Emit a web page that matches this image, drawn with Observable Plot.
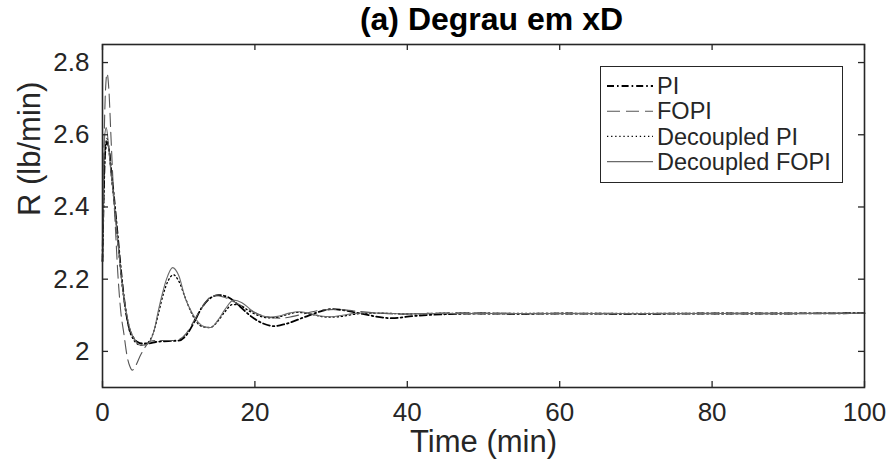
<!DOCTYPE html>
<html><head><meta charset="utf-8">
<script src="https://cdn.jsdelivr.net/npm/d3@7"></script>
<script src="https://cdn.jsdelivr.net/npm/@observablehq/plot@0.6"></script>
<style>
body{margin:0;background:#fff;}
#wrap{position:relative;width:888px;height:469px;font-family:"Liberation Sans",Arial,Helvetica,sans-serif;}
#legend{position:absolute;left:600px;top:66px;}
</style></head><body><div id="wrap"></div>
<script>
// ---- data ----
const title = "(a) Degrau em xD";
const xLabel = "Time (min)";
const yLabel = "R (lb/min)";
const xTicks = [0, 20, 40, 60, 80, 100];
const yTicks = [2, 2.2, 2.4, 2.6, 2.8];
const yTickLabels = ["2", "2.2", "2.4", "2.6", "2.8"];
const seriesNames = ["PI", "FOPI", "Decoupled PI", "Decoupled FOPI"];

const tPI = [0,0.15,0.35,0.6,0.85,1.2,1.5,2.0,2.5,3.0,3.5,4.0,4.6,5.2,6,7,8,9,10,11,12,13,14,15.2,16.5,18,19.5,21,22.5,24,26.4,28.5,30,33.4,35,38,40.8,45,50,55,60,70,80,90,100];
const rPI = [2.25,2.42,2.55,2.58,2.56,2.49,2.43,2.32,2.21,2.12,2.065,2.04,2.026,2.022,2.022,2.026,2.028,2.029,2.03,2.045,2.08,2.12,2.145,2.156,2.15,2.125,2.097,2.078,2.07,2.076,2.094,2.11,2.117,2.107,2.1,2.092,2.098,2.103,2.105,2.104,2.105,2.104,2.105,2.105,2.106];

const tFOPI = [0,0.15,0.35,0.6,0.85,1.1,1.4,1.7,2.0,2.4,2.8,3.2,3.6,3.9,4.4,5.0,5.6,6.2,7,8,9,10,11,12,13,14,14.8,16,17.5,19,20.5,22,23.5,25,27,29,31,33,35,37,39,41,44,47,50,55,60,70,80,90,100];
const rFOPI = [2.25,2.5,2.7,2.77,2.72,2.6,2.46,2.34,2.22,2.11,2.05,1.99,1.958,1.948,1.962,1.99,2.012,2.028,2.03,2.03,2.03,2.033,2.05,2.085,2.12,2.148,2.155,2.15,2.135,2.118,2.103,2.094,2.092,2.097,2.107,2.115,2.116,2.112,2.108,2.105,2.103,2.104,2.106,2.107,2.106,2.105,2.105,2.105,2.105,2.105,2.106];

const tDPI = [0,0.15,0.35,0.6,0.85,1.2,1.5,2.0,2.5,3.0,3.5,4.0,4.5,5.0,5.6,6.2,6.8,7.4,8.0,8.6,9.3,10,10.8,11.6,12.4,13.2,14.1,15,16,17.1,18.2,19.4,20.6,21.8,23,24.2,25.5,26.8,28,29.5,31,32.5,34,36,38,40,43,46,50,55,60,70,80,90,100];
const rDPI = [2.25,2.42,2.56,2.59,2.56,2.48,2.42,2.31,2.2,2.12,2.06,2.035,2.022,2.017,2.02,2.03,2.06,2.11,2.16,2.195,2.212,2.195,2.152,2.11,2.08,2.068,2.066,2.08,2.108,2.13,2.125,2.11,2.098,2.093,2.095,2.102,2.108,2.106,2.1,2.095,2.096,2.101,2.105,2.106,2.105,2.104,2.105,2.105,2.105,2.105,2.105,2.105,2.105,2.105,2.106];

const tDFOPI = [0,0.12,0.3,0.5,0.75,1.0,1.4,1.9,2.4,2.8,3.2,3.7,4.3,5.0,5.7,6.3,6.8,7.3,7.8,8.4,9.2,10,10.9,11.8,12.6,13.4,14.2,15.1,16.1,17.2,18.3,19.5,20.7,22,23.2,24.5,25.8,27.2,28.6,30,31.5,33,35,37,40,43,46,50,55,60,70,80,90,100];
const rDFOPI = [2.25,2.45,2.6,2.62,2.58,2.52,2.44,2.33,2.22,2.15,2.1,2.055,2.03,2.017,2.018,2.03,2.06,2.11,2.155,2.2,2.232,2.21,2.145,2.105,2.08,2.068,2.066,2.085,2.117,2.142,2.135,2.115,2.1,2.095,2.098,2.106,2.11,2.105,2.098,2.096,2.1,2.105,2.107,2.106,2.104,2.105,2.105,2.105,2.105,2.105,2.105,2.105,2.105,2.106];

// ---- build tables ----
const zip = (ts, rs) => ts.map((t, i) => ({t, r: rs[i]}));
const dPI = zip(tPI, rPI), dFOPI = zip(tFOPI, rFOPI), dDPI = zip(tDPI, rDPI), dDFOPI = zip(tDFOPI, rDFOPI);

const styles = [
  {stroke: "#000", strokeWidth: 1.8, strokeDasharray: "7,3,1.6,3"},
  {stroke: "#555", strokeWidth: 1.1, strokeDasharray: "13,6"},
  {stroke: "#000", strokeWidth: 1.3, strokeDasharray: "1.3,2.8"},
  {stroke: "#6a6a6a", strokeWidth: 1.1}
];

const W = 888, H = 469, mL = 102, mR = 24, mT = 44, mB = 82;
const pW = W - mL - mR, pH = H - mT - mB;
const ink = "#262626";
const font = '"Liberation Sans", Arial, Helvetica, sans-serif';

const chart = Plot.plot({
  width: W, height: H,
  marginLeft: mL, marginRight: mR, marginTop: mT, marginBottom: mB,
  style: {fontFamily: font, color: ink, background: "#fff", overflow: "visible"},
  x: {domain: [0, 100]},
  y: {domain: [1.9, 2.85]},
  marks: [
    Plot.line(dPI, {x: "t", y: "r", curve: "monotone-x", ...styles[0]}),
    Plot.line(dFOPI, {x: "t", y: "r", curve: "monotone-x", ...styles[1]}),
    Plot.line(dDPI, {x: "t", y: "r", curve: "monotone-x", ...styles[2]}),
    Plot.line(dDFOPI, {x: "t", y: "r", curve: "monotone-x", ...styles[3]}),
    Plot.frame({stroke: ink, strokeWidth: 1.6}),
    Plot.tickX(xTicks, {x: d => d, insetTop: pH - 6, stroke: ink, strokeWidth: 1.3}),
    Plot.tickX(xTicks, {x: d => d, insetBottom: pH - 6, stroke: ink, strokeWidth: 1.3}),
    Plot.tickY(yTicks, {y: d => d, insetRight: pW - 6, stroke: ink, strokeWidth: 1.3}),
    Plot.tickY(yTicks, {y: d => d, insetLeft: pW - 6, stroke: ink, strokeWidth: 1.3}),
    Plot.axisX({ticks: xTicks, tickSize: 0, tickPadding: 15, fontSize: 26, label: null, tickFormat: d => String(d)}),
    Plot.axisY({ticks: yTicks, tickSize: 0, tickPadding: 13, fontSize: 26, label: null, tickFormat: d => yTickLabels[yTicks.indexOf(d)]}),
    Plot.text([xLabel], {frameAnchor: "bottom", dy: 64, lineAnchor: "bottom", fontSize: 31, fill: ink}),
    Plot.text([yLabel], {frameAnchor: "left", dx: -72, rotate: -90, fontSize: 31, fill: ink}),
    Plot.text([title], {frameAnchor: "top", dy: -15, dx: 8, lineAnchor: "bottom", fontSize: 32, fontWeight: "bold", fill: "#000"})
  ]
});
const wrap = document.getElementById("wrap");
wrap.appendChild(chart);

// ---- legend ----
const lw = 243, lh = 117, rowH = 25.2, row0 = 20;
const svgNS = "http://www.w3.org/2000/svg";
const leg = document.createElementNS(svgNS, "svg");
leg.setAttribute("id", "legend");
leg.setAttribute("width", lw); leg.setAttribute("height", lh);
let html = `<rect x="0.5" y="0.5" width="${lw-1}" height="${lh-1}" fill="#fff" stroke="${ink}" stroke-width="1"/>`;
seriesNames.forEach((name, i) => {
  const y = row0 + i * rowH;
  const s = styles[i];
  html += `<line x1="7" x2="53" y1="${y}" y2="${y}" stroke="${s.stroke}" stroke-width="${s.strokeWidth}" ${s.strokeDasharray ? `stroke-dasharray="${s.strokeDasharray}"` : ""}/>`;
  html += `<text x="57" y="${y}" dy="0.35em" font-family='${font}' font-size="23.5" fill="${ink}">${name}</text>`;
});
leg.innerHTML = html;
wrap.appendChild(leg);
</script></body></html>
